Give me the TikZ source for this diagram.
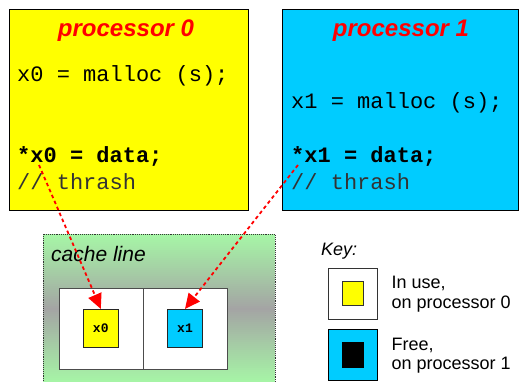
\documentclass[tikz,border=0pt]{standalone}
\usepackage{fontspec}
\setmainfont{Liberation Sans}
\setmonofont{Liberation Mono}
\usetikzlibrary{arrows.meta}

\definecolor{procyellow}{RGB}{255,255,0}
\definecolor{proccyan}{RGB}{0,204,255}
\definecolor{cachegreen}{RGB}{166,246,166}
\definecolor{cachegray}{RGB}{164,164,164}

\tikzset{
  procbox/.style={draw=black, line width=0.9pt},
  proctitle/.style={text=red, inner sep=0, anchor=base,
    font=\fontsize{24}{24}\selectfont\bfseries\itshape},
  code/.style={inner sep=0, anchor=base west,
    font=\fontsize{22}{22}\selectfont\ttfamily},
  codebold/.style={inner sep=0, anchor=base west,
    font=\fontsize{22}{22}\selectfont\ttfamily\bfseries},
  comment/.style={code, text=black!80},
  slot/.style={draw=black!70, fill=white, line width=0.9pt},
  word/.style={draw=black!85, line width=0.7pt, inner sep=0,
    font=\fontsize{13}{13}\selectfont\ttfamily\bfseries},
  ptr/.style={red, line width=1.8pt, dash pattern=on 3.5pt off 3pt,
    -{Triangle[length=15pt,width=14pt]}},
  label/.style={inner sep=0, anchor=base west,
    font=\fontsize{18}{18}\selectfont},
}

\begin{document}
\begin{tikzpicture}[x=1pt,y=-1pt]
\useasboundingbox (0,0) rectangle (519,381);

% two processors
\draw[procbox, fill=procyellow] (9,9.5) rectangle (248,210);
\draw[procbox, fill=proccyan] (282,9.5) rectangle (518.5,210);

\node[proctitle] (t0) at (126,36) {processor 0};
\node[proctitle] (t1) at (401,36) {processor 1};

\node[code] (m0) at (17,81) {x0 = malloc (s);};
\node[codebold] (d0) at (17,162) {*x0 = data;};
\node[comment] (c0) at (17,189) {// thrash};

\node[code] (m1) at (291,108) {x1 = malloc (s);};
\node[codebold] (d1) at (291,162) {*x1 = data;};
\node[comment] (c1) at (291,189) {// thrash};

% the shared cache line: green fading to a grey band in the middle
\foreach \i in {0,...,37} {
  \pgfmathsetmacro{\mix}{100*(37-\i)/37}
  \fill[cachegreen!\mix!cachegray] (43,234+2*\i) rectangle (275,236.3+2*\i);
}
\foreach \i in {0,...,37} {
  \pgfmathsetmacro{\mix}{100*\i/37}
  \fill[cachegreen!\mix!cachegray] (43,308+2*\i) rectangle (275,310.3+2*\i);
}
\draw[black!80, line width=0.9pt, densely dotted] (43,383) -- (43,234) -- (275,234) -- (275,383);
\node[inner sep=0, anchor=base west, font=\fontsize{21}{21}\selectfont\itshape] (cl) at (51,261) {cache line};

\draw[slot] (59,288.5) rectangle (143,369);
\draw[slot] (143,288.5) rectangle (227.5,369);

\node[word, fill=procyellow, minimum width=35pt, minimum height=38.5pt] (w0) at (100.8,328.5) {x0};
\node[word, fill=proccyan, minimum width=35pt, minimum height=38.5pt] (w1) at (185,328.5) {x1};

% writes from each processor into the same line
\coordinate (s0) at (39,165);
\coordinate (s1) at (298,165);
\draw[ptr] (s0) -- (w0.north);
\draw[ptr] (s1) -- (w1.north);

% key
\node[inner sep=0, anchor=base west, font=\fontsize{18}{18}\selectfont\itshape] (key) at (321,255) {Key:};
\draw[black!80, fill=white, line width=0.9pt] (328,268) rectangle (377.3,319.3);
\draw[black!80, fill=procyellow, line width=0.7pt] (342.3,281) rectangle (363.3,305);
\draw[black, fill=proccyan, line width=0.9pt] (328,329) rectangle (377.3,380.7);
\draw[black, fill=black] (342,341.7) rectangle (363.3,366.7);

\node[label] (k1a) at (391.5,288) {In use,};
\node[label] (k1b) at (391.5,308) {on processor 0};
\node[label] (k2a) at (391.5,350) {Free,};
\node[label] (k2b) at (391.5,369.5) {on processor 1};
\end{tikzpicture}
\end{document}
